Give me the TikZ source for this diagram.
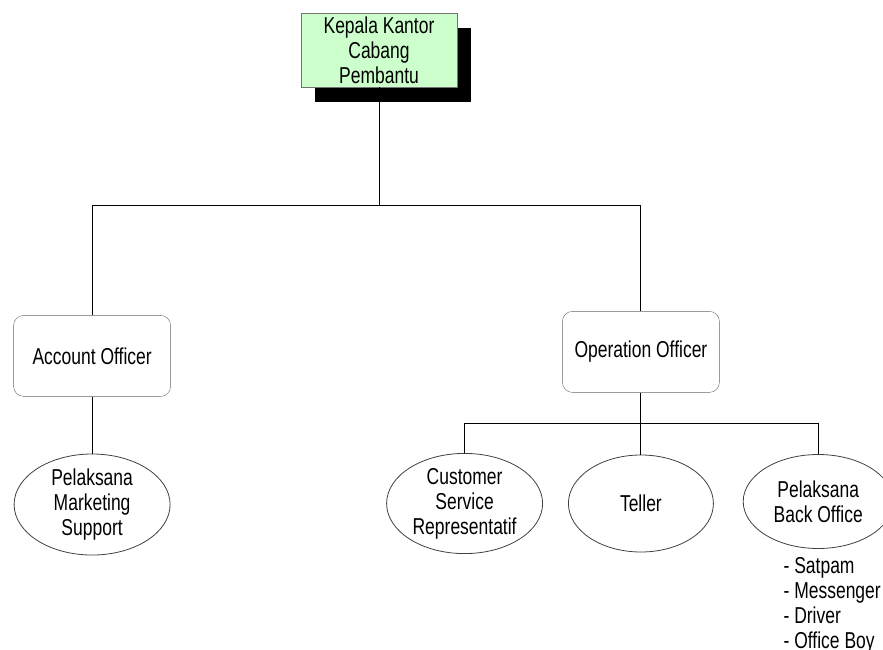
\documentclass[tikz,border=0pt]{standalone}
\usepackage{fontspec}
\setmainfont[FakeStretch=0.76]{Liberation Sans}
\usepackage{tikz}
\usetikzlibrary{positioning,shadows,shapes.geometric}
\definecolor{headgreen}{HTML}{CCFFCC}

\begin{document}
\begin{tikzpicture}[
    font=\fontsize{23pt}{25pt}\selectfont,
    head/.style={draw=black!55, fill=headgreen, align=center, inner sep=0pt,
                 minimum width=156pt, minimum height=74pt,
                 general shadow={fill=black, shadow xshift=14pt, shadow yshift=-15pt}},
    officer/.style={draw=black!60, rounded corners=10pt, align=center, inner sep=0pt,
                    minimum width=157pt, minimum height=81pt},
    staff/.style={ellipse, draw=black!75, line width=0.8pt, align=center, inner sep=0pt,
                  minimum width=156pt, minimum height=97pt},
    link/.style={draw=black, line width=0.9pt}
  ]
    \useasboundingbox (0,0) rectangle (883pt,-650pt);

    \node[head] (kepala) at (379pt,-50pt) {Kepala Kantor\\Cabang\\Pembantu};
    \node[officer, below left=228pt and 130pt of kepala]  (acc) {Account Officer};
    \node[officer, below right=224pt and 105pt of kepala] (ops) {Operation Officer};
    \node[staff, minimum height=94pt, below=57pt of acc]  (pms) {Pelaksana\\Marketing\\Support};
    \node[staff, minimum width=145pt, below=62pt of ops]  (teller) {Teller};
    \node[staff, left=25pt of teller]                     (csr) {Customer\\Service\\Representatif};
    \node[staff, minimum width=150pt, minimum height=94pt, right=29pt of teller, yshift=2pt] (bo) {Pelaksana\\Back Office};
    \node[align=left, inner sep=0pt, below=8pt of bo, xshift=14pt] (bolist)
      {- Satpam\\- Messenger\\- Driver\\- Office Boy};

    % bus from the head
    \path (kepala.south) ++(0,-118pt) coordinate (j1);
    \draw[link] (kepala.south) -- (j1);
    \draw[link] (acc.north) |- (j1) -| (ops.north);
    \draw[link] (acc) -- (pms);

    % bus under operation officer
    \path (ops.south) ++(0,-31pt) coordinate (j2);
    \draw[link] (ops.south) -- (j2);
    \draw[link] (csr.north) |- (j2) -| (bo.north);
    \draw[link] (j2) -- (teller.north);
  \end{tikzpicture}
\end{document}
